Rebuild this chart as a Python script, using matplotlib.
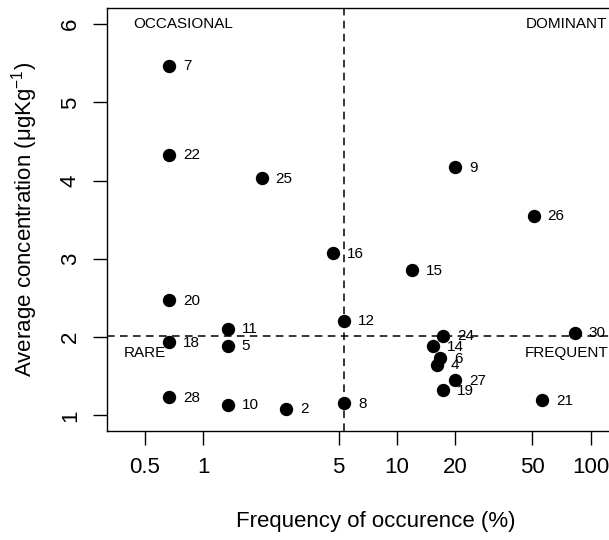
import numpy as np
import matplotlib
matplotlib.use("Agg")
import matplotlib.pyplot as plt
from matplotlib.ticker import FixedLocator, NullLocator

plt.rcParams['font.family'] = ['Liberation Sans', 'DejaVu Sans']
plt.rcParams['mathtext.fontset'] = 'custom'
plt.rcParams['mathtext.rm'] = 'Liberation Sans'
plt.rcParams['mathtext.it'] = 'Liberation Sans:italic'

# site numbers, frequency of occurence (%) and average concentration
sites = [7, 22, 25, 20, 18, 28, 11, 5, 10, 2, 16, 12, 8,
         15, 9, 26, 24, 14, 6, 4, 27, 19, 21, 30]
frequency = [0.667, 0.667, 2.0, 0.667, 0.667, 0.667, 1.333, 1.333, 1.333, 2.667, 4.667, 5.333, 5.333,
             12.0, 20.0, 50.67, 17.33, 15.33, 16.67, 16.0, 20.0, 17.33, 56.0, 82.67]
concentration = [5.47, 4.33, 4.03, 2.47, 1.936, 1.23, 2.107, 1.89, 1.137, 1.086, 3.07, 2.21, 1.16,
                 2.856, 4.171, 3.554, 2.02, 1.885, 1.732, 1.647, 1.447, 1.319, 1.19, 2.056]

freq_cut = 5.33
conc_cut = 2.01

x_ticks = [0.5, 1, 5, 10, 20, 50, 100]
x_tick_labels = ['0.5', '1', '5', '10', '20', '50', '100']
y_ticks = [1, 2, 3, 4, 5, 6]

fig = plt.figure(figsize=(6.09, 5.40), dpi=100)
# axes run past the right edge of the figure, like the cropped original
ax = fig.add_axes([0.1762, 0.2019, 0.8826, 0.7824])

ax.scatter(frequency, concentration, s=74, color='black', zorder=3)
for s, f, c in zip(sites, frequency, concentration):
    ax.annotate(str(s), (f, c), xytext=(10, -0.5), textcoords='offset points',
                ha='left', va='center', fontsize=11)

ax.axvline(freq_cut, color='black', lw=1.1, dashes=(5, 3.5))
ax.axhline(conc_cut, color='black', lw=1.1, dashes=(5, 3.5))

ax.text(0.79, 6.0, 'OCCASIONAL', ha='center', va='center', fontsize=11)
ax.text(75, 6.0, 'DOMINANT', ha='center', va='center', fontsize=11)
ax.text(0.5, 1.8, 'RARE', ha='center', va='center', fontsize=11)
ax.text(75, 1.8, 'FREQUENT', ha='center', va='center', fontsize=11)

ax.set_xscale('log')
ax.set_xlim(0.3194, 190)
ax.set_ylim(0.8, 6.2)
ax.xaxis.set_major_locator(FixedLocator(x_ticks))
ax.xaxis.set_minor_locator(NullLocator())
ax.set_xticklabels(x_tick_labels)
ax.set_yticks(y_ticks)
for lbl in ax.get_yticklabels():
    lbl.set_rotation(90)
    lbl.set_va('center')

ax.tick_params(axis='both', direction='out', length=10, width=1, labelsize=16, pad=9)
for sp in ax.spines.values():
    sp.set_linewidth(1)

ax.set_xlabel('Frequency of occurence (%)', fontsize=16, labelpad=23.5)
ax.set_ylabel('Average concentration (μgKg$^{-1}$)', fontsize=16, labelpad=14)

fig.savefig('out.png', dpi=100)
